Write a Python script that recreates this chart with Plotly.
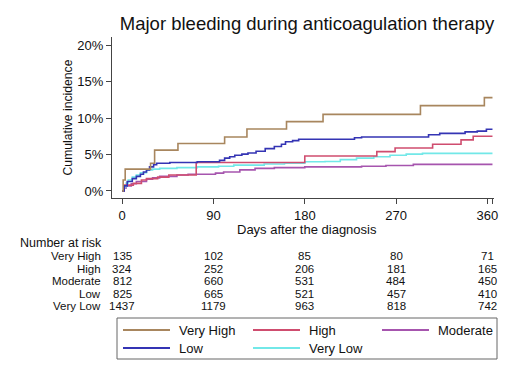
import plotly.graph_objects as go

# ---------------- data ----------------
groups = ["Very High", "High", "Moderate", "Low", "Very Low"]

vh_days = [0, 1, 3, 28, 32, 55, 101, 123, 162, 198, 294, 357, 365]
vh_inc = [0, 1.5, 3.0, 3.8, 5.6, 6.5, 7.4, 8.5, 9.5, 10.5, 11.7, 12.8, 12.8]

hi_days = [0, 2, 11, 19, 24, 35, 46, 73, 180, 251, 269, 306, 334, 346, 365]
hi_inc = [0, 0.8, 1.05, 1.5, 1.7, 1.9, 2.2, 3.9, 4.8, 5.4, 5.9, 6.4, 7.0, 7.5, 7.5]

mo_days = [0, 2, 4, 9, 14, 24, 30, 37, 54, 65, 92, 100, 116, 131, 150, 180, 236, 260, 287, 365]
mo_inc = [0, 0.4, 0.7, 1.0, 1.3, 1.6, 1.8, 2.0, 2.2, 2.3, 2.45, 2.6, 2.9, 3.1, 3.2, 3.3, 3.4, 3.5, 3.65, 3.65]

lo_days = [0, 2, 5, 10, 14, 18, 21, 24, 27, 31, 34, 47, 74, 96, 101, 106, 111, 118, 124,
           132, 141, 150, 157, 161, 168, 174, 229, 236, 302, 313, 338, 350, 359, 365]
lo_inc = [0, 0.7, 1.3, 1.7, 2.0, 2.3, 2.6, 2.9, 3.3, 3.6, 3.8, 3.9, 4.0, 4.2, 4.5, 4.7, 4.9, 5.05, 5.2,
          5.45, 5.8, 6.1, 6.4, 6.75, 6.9, 7.1, 7.3, 7.4, 7.7, 7.9, 8.1, 8.2, 8.45, 8.45]

vl_days = [0, 2, 4, 6, 10, 14, 18, 24, 30, 37, 54, 74, 95, 110, 140, 160, 180, 200, 215,
           231, 248, 264, 280, 296, 365]
vl_inc = [0, 0.6, 1.1, 1.5, 1.9, 2.2, 2.5, 2.9, 3.0, 3.1, 3.2, 3.3, 3.4, 3.55, 3.7, 3.8, 4.0, 4.05, 4.3,
          4.5, 4.7, 4.9, 5.05, 5.15, 5.15]

risk_days = [0, 90, 180, 270, 360]
risk_vh = [135, 102, 85, 80, 71]
risk_hi = [324, 252, 206, 181, 165]
risk_mo = [812, 660, 531, 484, 450]
risk_lo = [825, 665, 521, 457, 410]
risk_vl = [1437, 1179, 963, 818, 742]

y_ticks = [0, 5, 10, 15, 20]
y_ticklabels = ["0%", "5%", "10%", "15%", "20%"]
x_ticks = [0, 90, 180, 270, 360, 365]
x_ticklabels = ["0", "90", "180", "270", "360", ""]

# ---------------- style ----------------
FONT = "Liberation Sans, Arial, Helvetica, sans-serif"
colors = {
    "Very High": "#A8865E",
    "High": "#CF4D6F",
    "Moderate": "#A655AE",
    "Low": "#3434B4",
    "Very Low": "#72E8E8",
}
series = {
    "Very High": (vh_days, vh_inc),
    "High": (hi_days, hi_inc),
    "Moderate": (mo_days, mo_inc),
    "Low": (lo_days, lo_inc),
    "Very Low": (vl_days, vl_inc),
}
risk = {
    "Very High": risk_vh,
    "High": risk_hi,
    "Moderate": risk_mo,
    "Low": risk_lo,
    "Very Low": risk_vl,
}

# page body has an 8px default margin -> compensate
OFF = 8
W, H = 520, 378
PL, PR, PT, PB = 112, 494, 37, 198          # target plot box in screenshot pixels
ML, MT = PL - OFF, PT - OFF
PW, PH = PR - PL, PB - PT
MR = W - ML - PW
MB = H - MT - PH


def px_x(p):
    return (p - PL) / PW


def px_y(p):
    return (PB - p) / PH


fig = go.Figure()
draw_order = ["Moderate", "Very Low", "High", "Low", "Very High"]
for g in draw_order:
    d, v = series[g]
    fig.add_trace(go.Scatter(x=d, y=v, mode="lines", line=dict(shape="hv", color=colors[g], width=1.6),
                             name=g, showlegend=False, hoverinfo="skip"))

annotations = []
shapes = []

# number at risk table
annotations.append(dict(text="Number at risk", xref="paper", yref="paper", x=px_x(18), y=px_y(243),
                        xanchor="left", yanchor="middle", showarrow=False,
                        font=dict(family=FONT, size=12.5, color="#111")))
row_y = [256, 268.5, 281, 293.5, 306]
for g, ry in zip(groups, row_y):
    annotations.append(dict(text=g, xref="paper", yref="paper", x=px_x(103), y=px_y(ry),
                            xanchor="right", yanchor="middle", showarrow=False,
                            font=dict(family=FONT, size=11.5, color="#111")))
    for dday, n in zip(risk_days, risk[g]):
        annotations.append(dict(text=str(n), xref="x", yref="paper", x=dday, y=px_y(ry),
                                xanchor="center", yanchor="middle", showarrow=False,
                                font=dict(family=FONT, size=11.5, color="#111")))

# legend (drawn manually to mimic the 3-column boxed legend)
shapes.append(dict(type="rect", xref="paper", yref="paper", x0=px_x(117), x1=px_x(497),
                   y0=px_y(359), y1=px_y(318), line=dict(color="#666", width=1), fillcolor="white"))
leg_pos = {
    "Very High": (123, 330), "High": (253, 330), "Moderate": (382, 330),
    "Low": (123, 348), "Very Low": (253, 348),
}
for g in groups:
    lx, ly = leg_pos[g]
    shapes.append(dict(type="line", xref="paper", yref="paper", x0=px_x(lx), x1=px_x(lx + 47),
                       y0=px_y(ly), y1=px_y(ly), line=dict(color=colors[g], width=2)))
    annotations.append(dict(text=g, xref="paper", yref="paper", x=px_x(lx + 54), y=px_y(ly),
                            xanchor="left", yanchor="middle", showarrow=False,
                            font=dict(family=FONT, size=13, color="#111")))

# x axis title
annotations.append(dict(text="Days after the diagnosis", xref="paper", yref="paper", x=px_x(307),
                        y=px_y(229.5), xanchor="center", yanchor="middle", showarrow=False,
                        font=dict(family=FONT, size=13, color="#111")))

fig.update_layout(
    template="none",
    width=W, height=H, autosize=False,
    margin=dict(l=ML, r=MR, t=MT, b=MB, pad=0, autoexpand=False),
    paper_bgcolor="white", plot_bgcolor="white",
    font=dict(family=FONT, size=13, color="#111"),
    title=dict(text="Major bleeding during anticoagulation therapy", x=(307 - OFF) / W, xanchor="center",
               y=1 - (24 - OFF) / H, yanchor="middle", xref="container", yref="container",
               font=dict(family=FONT, size=18.5, color="#111")),
    xaxis=dict(range=[-10, 366.5], tickvals=x_ticks, ticktext=x_ticklabels, ticks="outside",
               ticklen=5, tickwidth=1, tickcolor="#444", showline=True, linecolor="#444", linewidth=1,
               showgrid=False, zeroline=False, automargin=False,
               tickfont=dict(family=FONT, size=13, color="#111")),
    yaxis=dict(range=[-0.96, 21.1], tickvals=y_ticks, ticktext=y_ticklabels, ticks="outside",
               ticklen=5, tickwidth=1, tickcolor="#444", showline=True, linecolor="#444", linewidth=1,
               showgrid=False, zeroline=False, automargin=False,
               tickfont=dict(family=FONT, size=13, color="#111"),
               title=dict(text="Cumulative incidence", standoff=2,
                          font=dict(family=FONT, size=12.2, color="#111"))),
    annotations=annotations,
    shapes=shapes,
    showlegend=False,
)

fig.write_html("out.html")
